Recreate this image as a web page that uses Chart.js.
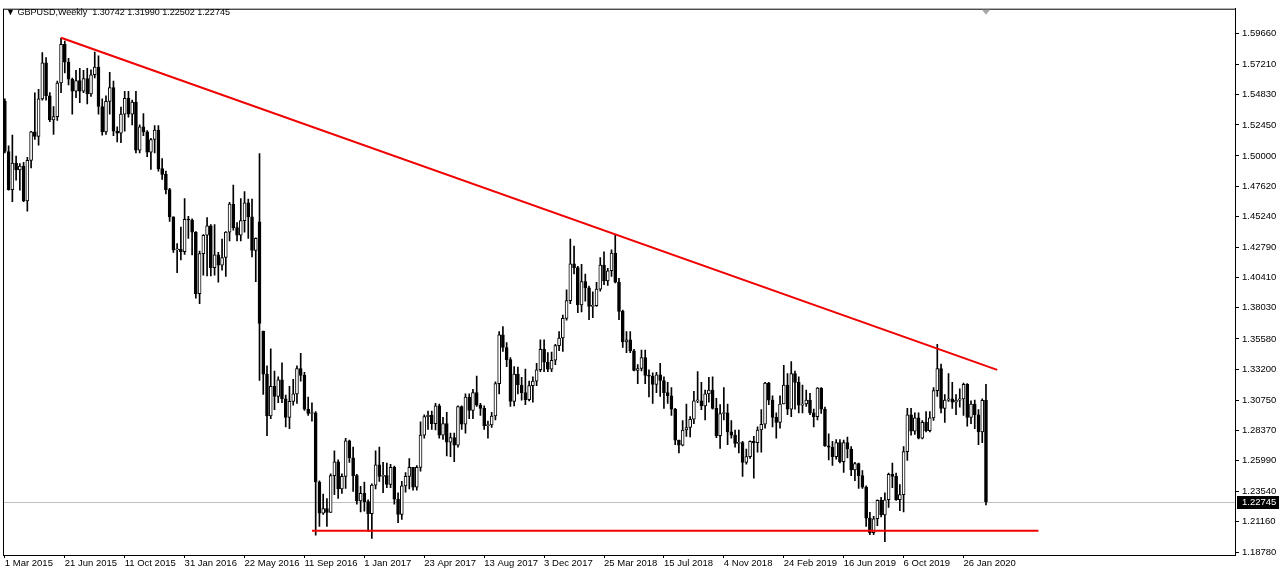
<!DOCTYPE html>
<html>
<head>
<meta charset="utf-8">
<script src="https://cdn.jsdelivr.net/npm/chart.js@4.4.1/dist/chart.umd.min.js"></script>
<style>
  html, body { margin: 0; padding: 0; background: #fff; }
  #wrap { position: relative; width: 1280px; height: 577px; }
  #title { position: absolute; left: 6px; top: 7px; font: 9px "Liberation Sans", Arial, sans-serif; color: #000; white-space: pre; }
</style>
</head>
<body>
<div id="wrap">
  <canvas id="chart" width="1280" height="577"></canvas>
  <div id="title">▼ GBPUSD,Weekly  1.30742 1.31990 1.22502 1.22745</div>
</div>
<script>
// weekly candles, first bar = week of 1 Mar 2015
const firstWeek = Date.UTC(2015, 2, 1);
const slotCount = 329; // bars + empty shift area on the right
const monthNames = ['Jan','Feb','Mar','Apr','May','Jun','Jul','Aug','Sep','Oct','Nov','Dec'];

const opens = [
  1.5430,1.5035,1.4735,1.4945,1.4890,1.4920,1.4645,1.4965,1.5190,1.5155,
  1.5450,1.5735,1.5475,1.5285,1.5310,1.5575,1.5880,1.5740,1.5605,1.5510,
  1.5595,1.5510,1.5610,1.5490,1.5640,1.5700,1.5390,1.5190,1.5430,1.5540,
  1.5195,1.5180,1.5330,1.5455,1.5330,1.5425,1.5045,1.5230,1.5190,1.5030,
  1.5130,1.5205,1.4900,1.4855,1.4735,1.4520,1.4260,1.4265,1.4245,1.4500,
  1.4495,1.4400,1.3915,1.4230,1.4375,1.4450,1.4120,1.4220,1.4140,1.4200,
  1.4400,1.4620,1.4435,1.4375,1.4490,1.4630,1.4520,1.4255,1.4480,1.3620,
  1.3280,1.2950,1.3185,1.3105,1.3235,1.3085,1.2940,1.3065,1.3125,1.3325,
  1.3270,1.3005,1.2970,1.2975,1.2430,1.2185,1.2220,1.2190,1.2480,1.2590,
  1.2375,1.2475,1.2755,1.2620,1.2480,1.2280,1.2340,1.2275,1.2180,1.2405,
  1.2565,1.2475,1.2480,1.2410,1.2545,1.2295,1.2175,1.2400,1.2475,1.2545,
  1.2390,1.2545,1.2800,1.2945,1.2955,1.2890,1.3030,1.2800,1.2890,1.2745,
  1.2780,1.2720,1.3025,1.2885,1.3100,1.2995,1.3135,1.3035,1.3010,1.2875,
  1.2880,1.2950,1.3205,1.3590,1.3490,1.3395,1.3065,1.3280,1.3195,1.3135,
  1.3080,1.3190,1.3225,1.3315,1.3475,1.3375,1.3320,1.3390,1.3505,1.3565,
  1.3720,1.3860,1.4150,1.4120,1.3825,1.4010,1.3960,1.3815,1.3820,1.3950,
  1.4140,1.4015,1.4095,1.4235,1.4005,1.3775,1.3535,1.3550,1.3465,1.3310,
  1.3325,1.3410,1.3270,1.3265,1.3200,1.3275,1.3230,1.3135,1.3110,1.3005,
  1.2760,1.2720,1.2840,1.2860,1.2925,1.3070,1.3070,1.3030,1.3125,1.3155,
  1.3010,1.2795,1.2970,1.2975,1.2825,1.2800,1.2735,1.2740,1.2585,1.2630,
  1.2750,1.2740,1.2840,1.2885,1.3210,1.3075,1.2940,1.2900,1.3045,1.3195,
  1.3005,1.3285,1.3215,1.3035,1.3045,1.3075,1.2975,1.2945,1.3170,1.3005,
  1.2715,1.2705,1.2630,1.2740,1.2590,1.2740,1.2690,1.2525,1.2575,1.2480,
  1.2390,1.2145,1.2030,1.2140,1.2285,1.2170,1.2290,1.2490,1.2475,1.2290,
  1.2330,1.2670,1.2960,1.2830,1.2935,1.2775,1.2900,1.2835,1.2935,1.3150,
  1.3325,1.3010,1.3075,1.3085,1.3060,1.3075,1.3085,1.3200,1.2940,1.3045,
  1.2960,1.2825,1.30742
];
const highs = [
  1.5450,1.5080,1.5165,1.5000,1.4940,1.4950,1.4990,1.5195,1.5497,1.5525,
  1.5815,1.5775,1.5500,1.5390,1.5590,1.5930,1.5905,1.5770,1.5615,1.5675,
  1.5690,1.5675,1.5690,1.5680,1.5820,1.5790,1.5450,1.5475,1.5660,1.5590,
  1.5230,1.5385,1.5510,1.5510,1.5440,1.5510,1.5245,1.5335,1.5200,1.5140,
  1.5240,1.5240,1.4980,1.4880,1.4745,1.4520,1.4310,1.4440,1.4665,1.4525,
  1.4505,1.4405,1.4250,1.4380,1.4515,1.4460,1.4460,1.4240,1.4345,1.4405,
  1.4635,1.4770,1.4475,1.4665,1.4720,1.4660,1.4660,1.4355,1.5018,1.3620,
  1.3345,1.3480,1.3305,1.3260,1.3370,1.3115,1.3185,1.3240,1.3345,1.3445,
  1.3295,1.3100,1.3055,1.2985,1.2440,1.2335,1.2300,1.2495,1.2675,1.2605,
  1.2495,1.2775,1.2760,1.2705,1.2490,1.2395,1.2430,1.2290,1.2415,1.2675,
  1.2705,1.2585,1.2580,1.2570,1.2555,1.2345,1.2435,1.2505,1.2615,1.2545,
  1.2560,1.2905,1.2960,1.2990,1.2990,1.3050,1.3045,1.2940,1.2980,1.2815,
  1.2815,1.3030,1.3030,1.3125,1.3125,1.3160,1.3265,1.3050,1.3030,1.2910,
  1.2980,1.3220,1.3615,1.3655,1.3530,1.3410,1.3340,1.3335,1.3255,1.3320,
  1.3225,1.3260,1.3365,1.3550,1.3550,1.3450,1.3455,1.3515,1.3615,1.3745,
  1.3945,1.4345,1.4290,1.4130,1.4145,1.4070,1.3975,1.3930,1.4005,1.4200,
  1.4245,1.4115,1.4260,1.4377,1.4035,1.3785,1.3615,1.3615,1.3475,1.3355,
  1.3470,1.3470,1.3315,1.3290,1.3295,1.3365,1.3260,1.3215,1.3175,1.3010,
  1.2760,1.2915,1.3045,1.2945,1.3145,1.3300,1.3215,1.3155,1.3255,1.3260,
  1.3090,1.3040,1.3175,1.3045,1.2915,1.2840,1.2840,1.2750,1.2690,1.2755,
  1.2790,1.2865,1.3000,1.3215,1.3215,1.3110,1.2975,1.3110,1.3350,1.3285,
  1.3380,1.3305,1.3260,1.3195,1.3155,1.3130,1.3005,1.3175,1.3175,1.3020,
  1.2810,1.2750,1.2765,1.2765,1.2760,1.2785,1.2710,1.2585,1.2580,1.2520,
  1.2400,1.2190,1.2160,1.2290,1.2310,1.2345,1.2500,1.2580,1.2500,1.2410,
  1.2710,1.3010,1.3010,1.2975,1.2975,1.2915,1.2985,1.2985,1.3175,1.3515,
  1.3360,1.3120,1.3285,1.3215,1.3120,1.3165,1.3210,1.3205,1.3070,1.3075,
  1.3000,1.3085,1.31990
];
const lows = [
  1.5025,1.4730,1.4640,1.4810,1.4730,1.4640,1.4565,1.4905,1.5130,1.5085,
  1.5440,1.5440,1.5270,1.5170,1.5280,1.5500,1.5655,1.5560,1.5330,1.5460,
  1.5420,1.5500,1.5410,1.5470,1.5615,1.5330,1.5165,1.5170,1.5330,1.5160,
  1.5110,1.5105,1.5195,1.5305,1.5245,1.5025,1.5025,1.5160,1.4995,1.4895,
  1.5025,1.4880,1.4815,1.4700,1.4485,1.4240,1.4080,1.4180,1.4225,1.4350,
  1.4220,1.3880,1.3835,1.4060,1.4055,1.4055,1.4060,1.4005,1.4100,1.4050,
  1.4330,1.4415,1.4330,1.4330,1.4400,1.4350,1.4205,1.4010,1.3230,1.3120,
  1.2795,1.2930,1.3000,1.3055,1.3055,1.2865,1.2850,1.3035,1.3050,1.3225,
  1.2995,1.2955,1.2910,1.2010,1.2080,1.2175,1.2080,1.2190,1.2330,1.2300,
  1.2340,1.2380,1.2585,1.2355,1.2255,1.2195,1.2200,1.2040,1.1986,1.2375,
  1.2435,1.2345,1.2385,1.2385,1.2255,1.2110,1.2135,1.2350,1.2375,1.2365,
  1.2365,1.2515,1.2775,1.2845,1.2845,1.2840,1.2775,1.2765,1.2635,1.2630,
  1.2590,1.2705,1.2845,1.2815,1.2930,1.2930,1.3025,1.2955,1.2845,1.2775,
  1.2860,1.2920,1.3125,1.3460,1.3340,1.3025,1.3030,1.3125,1.3075,1.3040,
  1.3070,1.3060,1.3190,1.3300,1.3300,1.3300,1.3300,1.3355,1.3465,1.3460,
  1.3705,1.3835,1.4070,1.3765,1.3770,1.3855,1.3710,1.3725,1.3815,1.3935,
  1.3985,1.3980,1.4050,1.4000,1.3710,1.3490,1.3450,1.3450,1.3305,1.3205,
  1.3305,1.3205,1.3100,1.3050,1.3135,1.3105,1.3010,1.3050,1.2955,1.2725,
  1.2660,1.2715,1.2790,1.2785,1.2890,1.3055,1.3000,1.2920,1.3060,1.3005,
  1.2780,1.2695,1.2920,1.2725,1.2775,1.2705,1.2660,1.2475,1.2570,1.2615,
  1.2460,1.2665,1.2665,1.2855,1.3040,1.2865,1.2775,1.2855,1.3045,1.2960,
  1.2945,1.3005,1.2975,1.2975,1.3025,1.2960,1.2865,1.2920,1.2970,1.2710,
  1.2605,1.2560,1.2610,1.2580,1.2505,1.2620,1.2480,1.2440,1.2380,1.2380,
  1.2080,1.2015,1.2015,1.2085,1.2155,1.1960,1.2230,1.2385,1.2285,1.2205,
  1.2195,1.2600,1.2800,1.2805,1.2770,1.2770,1.2825,1.2825,1.2915,1.3105,
  1.2975,1.2900,1.3065,1.3010,1.2960,1.3020,1.2955,1.2870,1.2890,1.2850,
  1.2725,1.2740,1.22502
];
const closes = [
  1.5035,1.4735,1.4945,1.4890,1.4920,1.4645,1.4965,1.5190,1.5155,1.5450,
  1.5735,1.5475,1.5285,1.5310,1.5575,1.5880,1.5740,1.5605,1.5510,1.5595,
  1.5510,1.5610,1.5490,1.5640,1.5700,1.5390,1.5190,1.5430,1.5540,1.5195,
  1.5180,1.5330,1.5455,1.5330,1.5425,1.5045,1.5230,1.5190,1.5030,1.5130,
  1.5205,1.4900,1.4855,1.4735,1.4520,1.4260,1.4265,1.4245,1.4500,1.4495,
  1.4400,1.3915,1.4230,1.4375,1.4450,1.4120,1.4220,1.4140,1.4200,1.4400,
  1.4620,1.4435,1.4375,1.4490,1.4630,1.4520,1.4255,1.4350,1.3680,1.3280,
  1.2950,1.3185,1.3105,1.3235,1.3085,1.2940,1.3065,1.3125,1.3325,1.3270,
  1.3005,1.2970,1.2975,1.2430,1.2185,1.2220,1.2190,1.2480,1.2590,1.2375,
  1.2475,1.2755,1.2620,1.2480,1.2280,1.2340,1.2275,1.2180,1.2405,1.2565,
  1.2475,1.2480,1.2410,1.2545,1.2295,1.2175,1.2400,1.2475,1.2545,1.2390,
  1.2545,1.2800,1.2945,1.2955,1.2890,1.3030,1.2800,1.2890,1.2745,1.2780,
  1.2720,1.3025,1.2885,1.3100,1.2995,1.3135,1.3035,1.3010,1.2875,1.2880,
  1.2950,1.3205,1.3590,1.3490,1.3395,1.3065,1.3280,1.3195,1.3135,1.3080,
  1.3190,1.3225,1.3315,1.3475,1.3375,1.3320,1.3390,1.3505,1.3565,1.3720,
  1.3860,1.4150,1.4120,1.3825,1.4010,1.3960,1.3815,1.3820,1.3950,1.4140,
  1.4015,1.4095,1.4235,1.4005,1.3775,1.3535,1.3550,1.3465,1.3310,1.3325,
  1.3410,1.3270,1.3265,1.3200,1.3275,1.3230,1.3135,1.3110,1.3005,1.2760,
  1.2720,1.2840,1.2860,1.2925,1.3070,1.3070,1.3030,1.3125,1.3155,1.3010,
  1.2795,1.2970,1.2975,1.2825,1.2800,1.2735,1.2740,1.2585,1.2630,1.2750,
  1.2740,1.2840,1.2885,1.3210,1.3075,1.2940,1.2900,1.3045,1.3195,1.3005,
  1.3285,1.3215,1.3035,1.3045,1.3075,1.2975,1.2945,1.3170,1.3005,1.2715,
  1.2705,1.2630,1.2740,1.2590,1.2740,1.2690,1.2525,1.2575,1.2480,1.2390,
  1.2145,1.2030,1.2140,1.2285,1.2170,1.2290,1.2490,1.2475,1.2290,1.2330,
  1.2670,1.2960,1.2830,1.2935,1.2775,1.2900,1.2835,1.2935,1.3150,1.3325,
  1.3010,1.3075,1.3085,1.3060,1.3075,1.3085,1.3200,1.2940,1.3045,1.2960,
  1.2825,1.3074,1.22745
];

const priceTicks = [1.59660,1.57210,1.54830,1.52450,1.50000,1.47620,1.45240,1.42790,1.40410,
  1.38030,1.35580,1.33200,1.30750,1.28370,1.25990,1.23540,1.21160,1.18780];
const dateTicks = ['1 Mar 2015','21 Jun 2015','11 Oct 2015','31 Jan 2016','22 May 2016','11 Sep 2016',
  '1 Jan 2017','23 Apr 2017','13 Aug 2017','3 Dec 2017','25 Mar 2018','15 Jul 2018','4 Nov 2018',
  '24 Feb 2019','16 Jun 2019','6 Oct 2019','26 Jan 2020'];

// drawn objects: [bar index, price]
const resistanceLine = [[15, 1.5932], [265, 1.33135]];
const supportLine = [[82, 1.20457], [276, 1.20457]];

const weeks = [];
for (let i = 0; i < slotCount; i++) {
  const d = new Date(firstWeek + i * 7 * 86400000);
  weeks.push(d.getUTCDate() + ' ' + monthNames[d.getUTCMonth()] + ' ' + d.getUTCFullYear());
}

const bodies = opens.map((o, i) => [Math.min(o, closes[i]), Math.max(o, closes[i])]);
const wicks = opens.map((o, i) => [Math.min(lows[i], o, closes[i]), Math.max(highs[i], o, closes[i])]);
const bodyColors = opens.map((o, i) => closes[i] >= o ? '#ffffff' : '#000000');
const lastClose = closes[closes.length - 1];

const font = { family: '"Liberation Sans", Arial, sans-serif', size: 9.5 };

const frame = {
  id: 'frame',
  beforeDatasetsDraw(chart) {
    const { ctx, chartArea: a } = chart;
    const y = Math.round(chart.scales.y.getPixelForValue(lastClose)) + 0.5;
    ctx.save();
    ctx.strokeStyle = '#c0c0c0';
    ctx.lineWidth = 1;
    ctx.beginPath();
    ctx.moveTo(a.left, y);
    ctx.lineTo(a.right, y);
    ctx.stroke();
    ctx.restore();
  },
  afterDraw(chart) {
    const { ctx, chartArea: a } = chart;
    ctx.save();
    ctx.strokeStyle = '#000';
    ctx.lineWidth = 1;
    ctx.strokeRect(a.left + 0.5, a.top + 0.5, a.right - a.left, a.bottom - a.top);
    // current price box
    const y = Math.round(chart.scales.y.getPixelForValue(lastClose));
    ctx.fillStyle = '#000';
    ctx.fillRect(a.right + 2, y - 6, 42, 13);
    ctx.fillStyle = '#fff';
    ctx.font = '9.5px "Liberation Sans", Arial, sans-serif';
    ctx.textBaseline = 'middle';
    ctx.fillText(lastClose.toFixed(5), a.right + 7, y + 0.5);
    // chart shift marker
    const sx = chart.scales.x.getPixelForValue(closes.length - 1);
    ctx.fillStyle = '#a8a8a8';
    ctx.beginPath();
    ctx.moveTo(sx - 4, a.top + 1);
    ctx.lineTo(sx + 4, a.top + 1);
    ctx.lineTo(sx, a.top + 6);
    ctx.closePath();
    ctx.fill();
    ctx.restore();
  }
};

new Chart(document.getElementById('chart'), {
  type: 'bar',
  data: {
    labels: weeks,
    datasets: [
      {
        type: 'line',
        data: resistanceLine.map(p => ({ x: weeks[p[0]], y: p[1] })),
        borderColor: '#f00000',
        borderWidth: 2,
        pointRadius: 0,
        order: 0
      },
      {
        type: 'line',
        data: supportLine.map(p => ({ x: weeks[p[0]], y: p[1] })),
        borderColor: '#f00000',
        borderWidth: 2,
        pointRadius: 0,
        order: 0
      },
      {
        data: bodies,
        backgroundColor: bodyColors,
        borderColor: '#000',
        borderWidth: 1,
        borderSkipped: false,
        barThickness: 3,
        minBarLength: 1,
        grouped: false,
        order: 1
      },
      {
        data: wicks,
        backgroundColor: '#000',
        barThickness: 1,
        grouped: false,
        order: 2
      }
    ]
  },
  options: {
    responsive: false,
    animation: false,
    layout: { padding: { left: 3, top: 3, right: 0, bottom: 0 } },
    plugins: { legend: { display: false }, tooltip: { enabled: false } },
    scales: {
      x: {
        type: 'category',
        offset: true,
        grid: { display: true, drawOnChartArea: false, offset: false, color: '#000', tickLength: 3 },
        border: { display: true, color: '#000' },
        ticks: { autoSkip: false, maxRotation: 0, align: 'start', padding: 0, color: '#000', font: font },
        afterBuildTicks: s => { s.ticks = s.ticks.filter(t => dateTicks.includes(weeks[t.value])); },
        afterFit: s => { s.height = 22; }
      },
      y: {
        position: 'right',
        min: 1.18546,
        max: 1.61610,
        bounds: 'data',
        grid: { display: true, drawOnChartArea: false, color: '#000', tickLength: 4 },
        border: { display: true, color: '#000' },
        ticks: { padding: 3, color: '#000', font: font, callback: v => v.toFixed(5) },
        afterBuildTicks: s => { s.ticks = priceTicks.map(v => ({ value: v })); },
        afterFit: s => { s.width = 45; }
      }
    }
  },
  plugins: [frame]
});
</script>
</body>
</html>
